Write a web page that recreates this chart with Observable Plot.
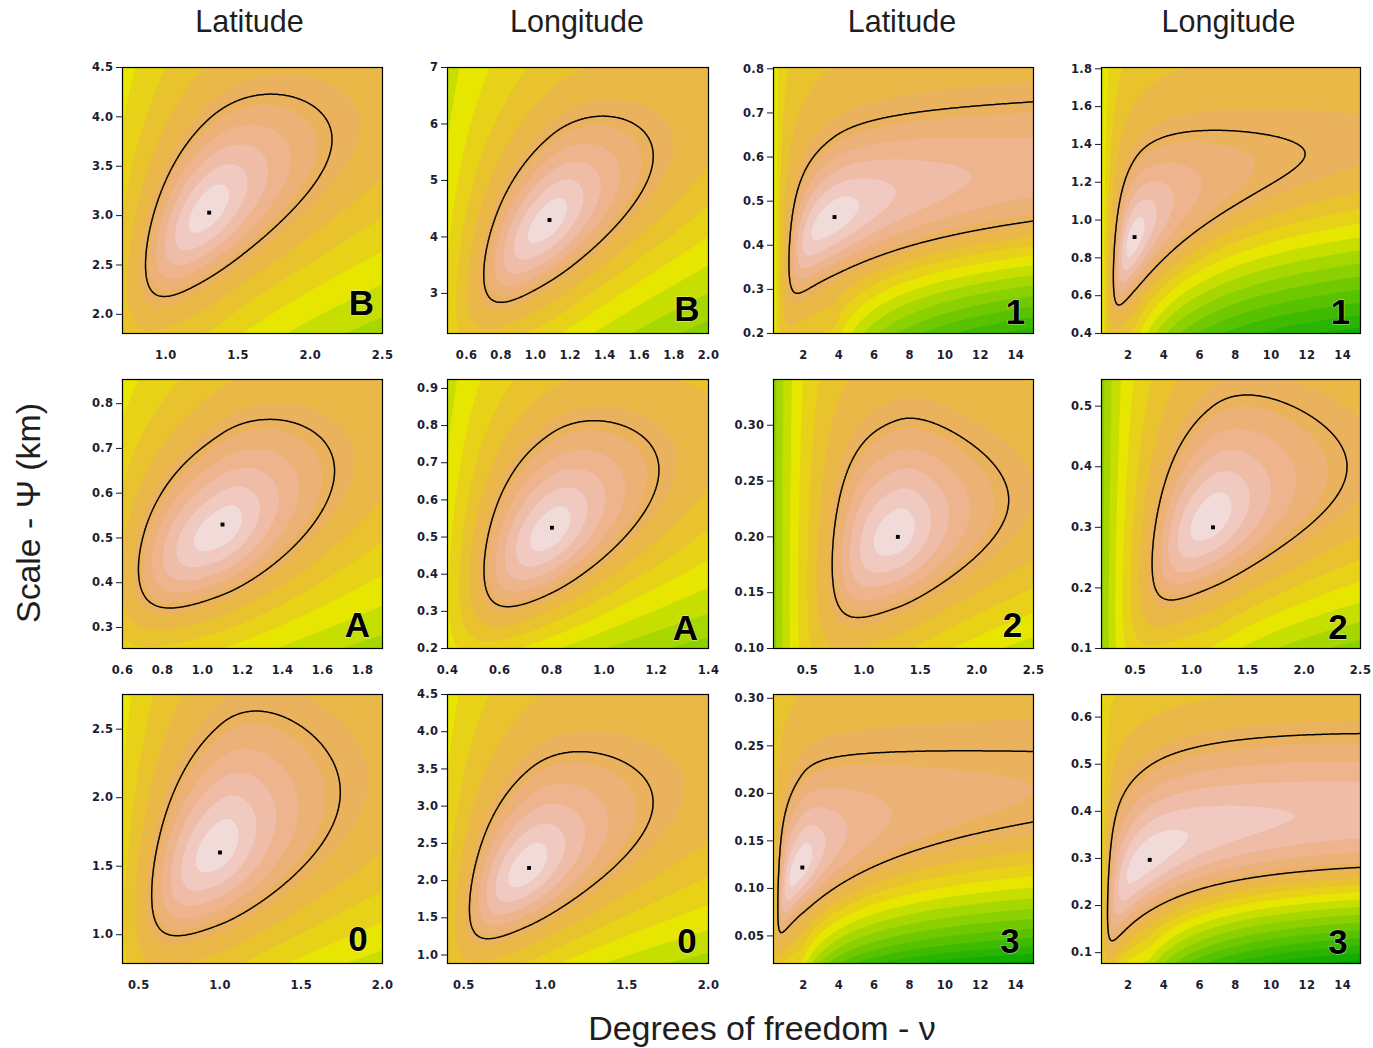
<!DOCTYPE html>
<html>
<head>
<meta charset="utf-8">
<script src="https://cdn.jsdelivr.net/npm/d3@7"></script>
<script src="https://cdn.jsdelivr.net/npm/@observablehq/plot@0.6"></script>
<style>
  html, body { margin: 0; padding: 0; background: #ffffff; }
  body { width: 1373px; height: 1048px; position: relative; overflow: hidden; }
  .panel { position: absolute; }
  #overlay { position: absolute; left: 0; top: 0; pointer-events: none; }
</style>
</head>
<body>
<div id="root"></div>
<svg id="overlay" width="1373" height="1048"></svg>
<script>
// ---------------- data ----------------
const columnTitles = ["Latitude", "Longitude", "Latitude", "Longitude"];
const yAxisTitle = "Scale - Ψ (km)";
const xAxisTitle = "Degrees of freedom - ν";
const panelLetters = ["B", "B", "1", "1", "A", "A", "2", "2", "0", "0", "3", "3"];

const xDomains = [[0.7, 2.5], [0.49, 2.0], [0.3, 15], [0.5, 15], [0.6, 1.9], [0.4, 1.4],
                  [0.2, 2.5], [0.2, 2.5], [0.4, 2.0], [0.4, 2.0], [0.3, 15], [0.5, 15]];
const yDomains = [[1.806, 4.5], [2.29, 7.0], [0.2, 0.803], [0.4, 1.807], [0.253, 0.854], [0.2, 0.924],
                  [0.1, 0.341], [0.1, 0.544], [0.79, 2.753], [0.886, 4.5], [0.021, 0.304], [0.077, 0.648]];
const xTicks = [
  [1.0, 1.5, 2.0, 2.5], [0.6, 0.8, 1.0, 1.2, 1.4, 1.6, 1.8, 2.0], [2, 4, 6, 8, 10, 12, 14], [2, 4, 6, 8, 10, 12, 14],
  [0.6, 0.8, 1.0, 1.2, 1.4, 1.6, 1.8], [0.4, 0.6, 0.8, 1.0, 1.2, 1.4], [0.5, 1.0, 1.5, 2.0, 2.5], [0.5, 1.0, 1.5, 2.0, 2.5],
  [0.5, 1.0, 1.5, 2.0], [0.5, 1.0, 1.5, 2.0], [2, 4, 6, 8, 10, 12, 14], [2, 4, 6, 8, 10, 12, 14]
];
const yTicks = [
  [2.0, 2.5, 3.0, 3.5, 4.0, 4.5], [3, 4, 5, 6, 7], [0.2, 0.3, 0.4, 0.5, 0.6, 0.7, 0.8], [0.4, 0.6, 0.8, 1.0, 1.2, 1.4, 1.6, 1.8],
  [0.3, 0.4, 0.5, 0.6, 0.7, 0.8], [0.2, 0.3, 0.4, 0.5, 0.6, 0.7, 0.8, 0.9], [0.10, 0.15, 0.20, 0.25, 0.30], [0.1, 0.2, 0.3, 0.4, 0.5],
  [1.0, 1.5, 2.0, 2.5], [1.0, 1.5, 2.0, 2.5, 3.0, 3.5, 4.0, 4.5], [0.05, 0.10, 0.15, 0.20, 0.25, 0.30], [0.1, 0.2, 0.3, 0.4, 0.5, 0.6]
];
const xTickFormats = [".1f", ".1f", "d", "d", ".1f", ".1f", ".1f", ".1f", ".1f", ".1f", "d", "d"];
const yTickFormats = [".1f", "d", ".1f", ".1f", ".1f", ".1f", ".2f", ".1f", ".1f", ".1f", ".2f", ".1f"];

// maximum-likelihood estimates (the black dots)
const mleNu  = [1.30, 1.08, 3.75, 2.35, 1.10, 0.80, 1.30, 1.19, 1.00, 0.90, 1.93, 3.20];
const mlePsi = [3.03, 4.30, 0.464, 0.91, 0.53, 0.525, 0.20, 0.30, 1.60, 2.17, 0.122, 0.297];

// readings of the confidence contour (black line)
const leftTipNu   = [0.86, 0.70, 1.18, 1.17, 0.68, 0.54, 0.72, 0.65, 0.58, 0.535, 0.55, 0.84];
const leftTipPsi  = [2.50, 3.33, 0.36, 0.70, 0.43, 0.41, 0.175, 0.24, 1.29, 1.62, 0.08, 0.185];
const rightNu     = [2.15, 1.68, 15, 11.9, 1.66, 1.21, 2.28, 2.38, 1.74, 1.66, 15, 15];
const rightPsiTop = [3.77, 5.43, 0.725, 1.35, 0.65, 0.68, 0.233, 0.40, 2.04, 3.05, 0.244, 0.565];
const rightPsiBot = [3.77, 5.43, 0.455, 1.35, 0.65, 0.68, 0.233, 0.40, 2.04, 3.05, 0.170, 0.281];
const midPsiTop   = [3.98, 5.77, 0.646, 1.32, 0.734, 0.78, 0.3046, 0.50, 2.53, 3.49, 0.220, 0.497];
const midPsiBot   = [2.37, 3.21, 0.333, 0.627, 0.373, 0.35, 0.137, 0.202, 1.075, 1.396, 0.0739, 0.1887];
const sideNu      = [1.0, 0.8, 2.0, 1.5, 0.8, 0.6, 0.9, 0.8, 0.7, 0.65, 1.0, 1.5];
const sidePsiTop  = [3.23, 4.51, 0.555, 1.095, 0.597, 0.592, 0.27, 0.391, 1.903, 2.62, 0.18, 0.41];
const sidePsiBot  = [2.10, 2.79, 0.292, 0.556, 0.341, 0.309, 0.1285, 0.179, 0.951, 1.17, 0.0563, 0.134];
// colour band (index into the 20-colour terrain palette) seen in the top-left and bottom-right corners
const cornerBandTopLeft     = [9, 8, 8, 8, 9, 8, 6, 6, 9, 9, 10, 9];
const cornerBandBottomRight = [7, 6, 2, 1, 7, 6, 8, 6, 8, 7, 0, 0];

// ---------------- layout / style ----------------
const FONT = '"Liberation Sans", Arial, Helvetica, sans-serif';
const TICKFONT = '"DejaVu Sans", Verdana, sans-serif';
const colLeft = [122, 447, 773, 1101];
const plotW = [260, 261, 260, 259];
const rowTop = [67, 379, 694];
const plotH = [266, 269, 269];
const letterGapRight  = [8, 8.5, 8, 10, 12, 10, 11, 12.5, 14.5, 11.5, 13.5, 12.5];
const letterGapBottom = [19, 13, 10, 10, 11.5, 9, 11.5, 10, 13, 10.5, 10.5, 10];

// R terrain.colors(20)
function hsv(h, s, v) {
  const i = Math.floor(h * 6), f = h * 6 - i;
  const p = v * (1 - s), q = v * (1 - f * s), t = v * (1 - (1 - f) * s);
  let r, g, b;
  switch (((i % 6) + 6) % 6) {
    case 0: r = v; g = t; b = p; break;
    case 1: r = q; g = v; b = p; break;
    case 2: r = p; g = v; b = t; break;
    case 3: r = p; g = q; b = v; break;
    case 4: r = t; g = p; b = v; break;
    default: r = v; g = p; b = q;
  }
  return d3.rgb(r * 255, g * 255, b * 255).formatHex();
}
function seq(a, b, n) { return d3.range(n).map(i => n === 1 ? a : a + (b - a) * i / (n - 1)); }
function terrainColors(n) {
  const k = Math.floor(n / 2);
  const h1 = seq(4 / 12, 2 / 12, k), s1 = seq(1, 1, k), v1 = seq(0.65, 0.9, k);
  const h2 = seq(2 / 12, 0, n - k + 1).slice(1), s2 = seq(1, 0, n - k + 1).slice(1), v2 = seq(0.9, 0.95, n - k + 1).slice(1);
  return [...h1.map((h, i) => hsv(h, s1[i], v1[i])), ...h2.map((h, i) => hsv(h, s2[i], v2[i]))];
}
const terrain = terrainColors(20);

// likelihood-like surface built from the contour readings: returns normalised distance r (contour at r = 1)
function buildSurface(i) {
  const L = Math.log;
  const nu0 = mleNu[i], u0 = 1 / nu0, w0 = L(nu0);
  const v0 = (L(midPsiTop[i]) + L(midPsiBot[i])) / 2;
  const h0 = (L(midPsiTop[i]) - L(midPsiBot[i])) / 2;
  const aL = 1 / leftTipNu[i] - u0;
  const u2 = 1 / sideNu[i];
  const A2 = Math.min(0.9, ((u2 - u0) / aL) ** 2);
  const s2 = (L(sidePsiTop[i]) - L(sidePsiBot[i])) / 2 / Math.sqrt(1 - A2);
  const sk = (s2 - h0) / (u2 - u0);
  const sOf = u => Math.min(2.5 * h0, Math.max(0.4 * h0, h0 + sk * (u - u0)));
  const uR = 1 / rightNu[i];
  const hR = (L(rightPsiTop[i]) - L(rightPsiBot[i])) / 2;
  const AR = Math.max(0.05, 1 - (hR / sOf(uR)) ** 2);
  const aR = (u0 - uR) / Math.sqrt(AR);
  const wL = L(leftTipNu[i]), vL = L(leftTipPsi[i]);
  const wR = L(rightNu[i]), vR = (L(rightPsiTop[i]) + L(rightPsiBot[i])) / 2;
  const cL = vL / ((wL - w0) * (wL - wR)), c0 = v0 / ((w0 - wL) * (w0 - wR)), cR = vR / ((wR - wL) * (wR - w0));
  const q = w => cL * (w - w0) * (w - wR) + c0 * (w - wL) * (w - wR) + cR * (w - wL) * (w - w0);
  const dq = w => cL * (2 * w - w0 - wR) + c0 * (2 * w - wL - wR) + cR * (2 * w - wL - w0);
  const ridge = w => w < wL ? vL + dq(wL) * (w - wL) : w > wR ? vR + dq(wR) * (w - wR) : q(w);
  const f = (nu, psi) => {
    const u = 1 / nu, du = u - u0;
    const A = (du / (du > 0 ? aL : aR)) ** 2;
    const dv = (L(psi) - ridge(L(nu))) / sOf(u);
    return {r: Math.sqrt(A + dv * dv), dv, u};
  };
  f.u0 = u0;
  return f;
}

const BANDS = 5.5, INNER = 1.2;
function fallFor(point, band) {
  const zT = 19 - (band + 0.5);
  const lr = Math.log(Math.max(1.05, point.r));
  return Math.min(3, Math.max(0.2, (zT / BANDS - 1) / lr));
}

const root = document.getElementById("root");
for (let i = 0; i < 12; i++) {
  const row = Math.floor(i / 4), col = i % 4;
  const W = plotW[col], H = plotH[row];
  const ml = 52, mr = 8, mt = 8, mb = 40;
  const surf = buildSurface(i);
  const [xa, xb] = xDomains[i], [ya, yb] = yDomains[i];
  const tl = surf(xa, yb), br = surf(xb, ya);
  const kUp = fallFor(tl, cornerBandTopLeft[i]);
  const kDown = fallFor(br, cornerBandBottomRight[i]);
  const u0 = surf.u0, uBR = 1 / xb;
  const level = (x, y) => {
    const {r, dv, u} = surf(x, y);
    let z;
    if (r <= 1) z = BANDS * Math.pow(r, INNER);
    else {
      const t = 0.5 * (1 + Math.tanh(1.2 * dv));
      const ramp = Math.min(1, Math.max(0, (u0 - u) / (u0 - uBR)));
      const kD = kUp + (kDown - kUp) * ramp;
      const k = kUp * t + kD * (1 - t);
      z = BANDS * (1 + k * Math.log(r));
    }
    return Math.max(0.01, 19 - z);
  };
  const px = (xb - xa) * 0.02, py = (yb - ya) * 0.02;
  const ext = {x1: xa - px, x2: xb + px, y1: ya - py, y2: yb + py};
  const plot = Plot.plot({
    width: ml + W + mr,
    height: mt + H + mb,
    marginLeft: ml, marginRight: mr, marginTop: mt, marginBottom: mb,
    style: {fontFamily: TICKFONT, fontSize: "11.5px", fontWeight: "bold", color: "#1c1c30", background: "transparent", overflow: "visible", letterSpacing: "0.4px"},
    x: {domain: xDomains[i], ticks: xTicks[i], tickFormat: d3.format(xTickFormats[i]), tickSize: 0, tickPadding: 17, label: null},
    y: {domain: yDomains[i], ticks: yTicks[i], tickFormat: d3.format(yTickFormats[i]), tickSize: 6, tickPadding: 3, label: null},
    color: {type: "ordinal", domain: d3.range(20), range: terrain},
    marks: [
      Plot.frame({fill: terrain[0], stroke: "none"}),
      Plot.contour({fill: level, ...ext, thresholds: d3.range(0, 19), pixelSize: 1, clip: true}),
      Plot.contour({value: level, ...ext, thresholds: [19 - BANDS], pixelSize: 1, fill: "none", stroke: "#000", strokeWidth: 1.5, clip: true}),
      Plot.dot([[mleNu[i], mlePsi[i]]], {x: d => d[0], y: d => d[1], symbol: "square", r: 2.2, fill: "#000", stroke: "none"}),
      Plot.text([panelLetters[i]], {text: d => d, frameAnchor: "bottom-right", textAnchor: "end", lineAnchor: "bottom",
        dx: -letterGapRight[i], dy: -letterGapBottom[i], fontSize: 35, fontWeight: "bold", fontFamily: FONT,
        fill: "#000", stroke: "#fff", strokeWidth: 1, strokeOpacity: 0.6}),
      Plot.frame({stroke: "#000", strokeWidth: 1.2})
    ]
  });
  plot.classList.add("panel");
  plot.style.left = (colLeft[col] - ml) + "px";
  plot.style.top = (rowTop[row] - mt) + "px";
  root.appendChild(plot);
}

// global titles
const ov = d3.select("#overlay");
const titleX = [249.5, 577, 902, 1228.5];
columnTitles.forEach((t, c) => {
  ov.append("text").attr("x", titleX[c]).attr("y", 32).attr("text-anchor", "middle")
    .attr("font-family", FONT).attr("font-size", 30.5).attr("fill", "#1e1e1e").text(t);
});
ov.append("text").attr("transform", "translate(40,513) rotate(-90)").attr("text-anchor", "middle")
  .attr("font-family", FONT).attr("font-size", 33.8).attr("fill", "#1e1e1e").text(yAxisTitle);
ov.append("text").attr("x", 762).attr("y", 1040).attr("text-anchor", "middle")
  .attr("font-family", FONT).attr("font-size", 34).attr("fill", "#1e1e1e").text(xAxisTitle);
</script>
</body>
</html>
